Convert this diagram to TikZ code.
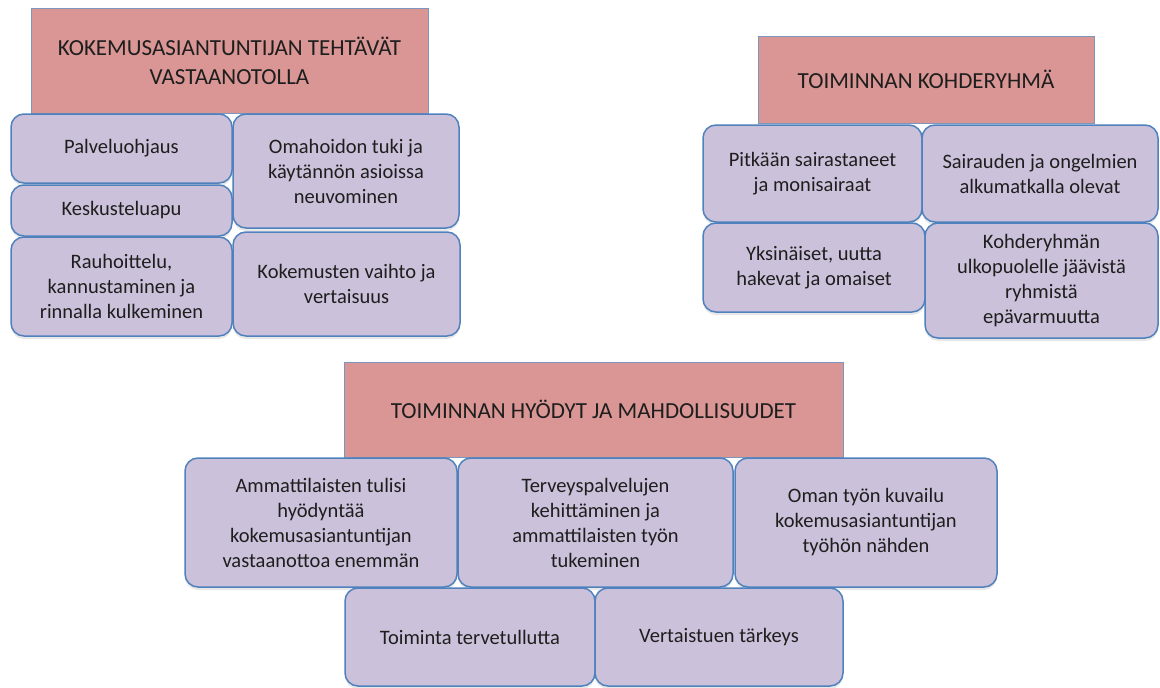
\documentclass[tikz,border=0pt]{standalone}
\usepackage{fontspec}
\setmainfont{Carlito}
\usetikzlibrary{shadows}
\definecolor{headfill}{RGB}{217,150,148}
\definecolor{headline}{RGB}{125,150,190}
\definecolor{boxfill}{RGB}{204,193,218}
\definecolor{boxline}{RGB}{79,129,189}
\definecolor{ink}{RGB}{30,30,30}
\tikzset{
  head/.style={draw=headline, line width=1pt, fill=headfill, inner sep=0pt,
    align=center, text=ink, font=\fontsize{23}{29}\selectfont},
  item/.style={draw=boxline, line width=1.5pt, fill=boxfill, rounded corners=13pt,
    inner sep=0pt, align=center, text=ink, font=\fontsize{20.5}{25}\selectfont,
    drop shadow={opacity=0.18, shadow xshift=0pt, shadow yshift=-3pt}},
}
\begin{document}
\begin{tikzpicture}[x=1pt, y=-1pt]
\useasboundingbox (0,0) rectangle (1160,688);

% --- Tasks at the reception ---
\node[head, minimum width=397pt, minimum height=105pt] (h1) at (229.5,60.5)
  {KOKEMUSASIANTUNTIJAN TEHTÄVÄT\\VASTAANOTOLLA};
\node[item, minimum width=221pt, minimum height=69pt] (pal) at (121.5,148.5) {Palveluohjaus};
\node[item, minimum width=221pt, minimum height=51pt] (kes) at (121.5,210.5) {Keskusteluapu};
\node[item, minimum width=221pt, minimum height=99pt] (rau) at (121.5,286.5)
  {Rauhoittelu,\\kannustaminen ja\\rinnalla kulkeminen};
\node[item, minimum width=226pt, minimum height=114pt] (oma) at (346,171)
  {Omahoidon tuki ja\\käytännön asioissa\\neuvominen};
\node[item, minimum width=227pt, minimum height=104pt] (kok) at (346.5,284)
  {Kokemusten vaihto ja\\vertaisuus};

% --- Target group ---
\node[head, minimum width=336pt, minimum height=87pt] (h2) at (926,79.5)
  {TOIMINNAN KOHDERYHMÄ};
\node[item, minimum width=219pt, minimum height=97pt] (pit) at (812.5,173.5)
  {Pitkään sairastaneet\\ja monisairaat};
\node[item, minimum width=236pt, minimum height=97pt] (sai) at (1040,173.5)
  {Sairauden ja ongelmien\\alkumatkalla olevat};
\node[item, minimum width=222pt, minimum height=89pt] (yks) at (814,267.5)
  {Yksinäiset, uutta\\hakevat ja omaiset};
\node[item, minimum width=233pt, minimum height=115pt] (koh) at (1041.5,280.5)
  {Kohderyhmän\\ulkopuolelle jäävistä\\ryhmistä\\epävarmuutta};

% --- Benefits and possibilities ---
\node[head, minimum width=499pt, minimum height=95pt] (h3) at (593.5,409.5)
  {TOIMINNAN HYÖDYT JA MAHDOLLISUUDET};
\node[item, minimum width=272pt, minimum height=129pt] (amm) at (321,522.5)
  {Ammattilaisten tulisi\\hyödyntää\\kokemusasiantuntijan\\vastaanottoa enemmän};
\node[item, minimum width=275pt, minimum height=129pt] (ter) at (595.5,522.5)
  {Terveyspalvelujen\\kehittäminen ja\\ammattilaisten työn\\tukeminen};
\node[item, minimum width=262pt, minimum height=129pt] (omn) at (866,522.5)
  {Oman työn kuvailu\\kokemusasiantuntijan\\työhön nähden};
\node[item, minimum width=250pt, minimum height=98pt] (toi) at (470,637)
  {Toiminta tervetullutta};
\node[item, minimum width=248pt, minimum height=98pt] (ver) at (719,637)
  {Vertaistuen tärkeys};
\end{tikzpicture}
\end{document}
